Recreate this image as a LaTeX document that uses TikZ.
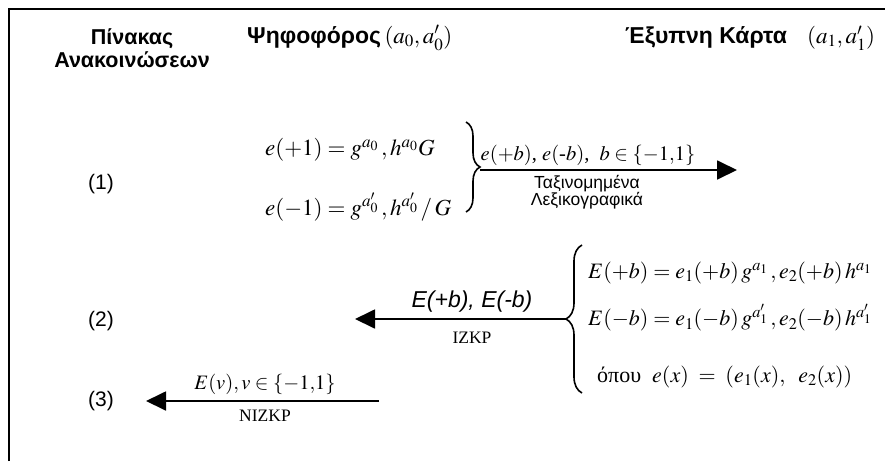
\documentclass[tikz,border=0pt]{standalone}
\usepackage{mathptmx}
\usepackage{fontspec}
\setmainfont{Liberation Serif}
\setsansfont{Liberation Sans}
\usetikzlibrary{arrows.meta,decorations.pathreplacing}
\tikzset{
  hdr/.style={font=\sffamily\bfseries\fontsize{21.5}{23.5}\selectfont, align=center, inner sep=0pt},
  colhdr/.style={font=\sffamily\bfseries\fontsize{23}{26}\selectfont, inner sep=0pt, anchor=west},
  hdrmath/.style={font=\fontsize{23}{26}\selectfont, inner sep=0pt, anchor=west},
  steplbl/.style={font=\sffamily\fontsize{21}{22}\selectfont, inner sep=0pt},
  eqn/.style={font=\fontsize{22}{26}\selectfont, inner sep=0pt, anchor=west},
  lbl/.style={font=\fontsize{20.5}{24}\selectfont, inner sep=0pt},
  small/.style={font=\fontsize{17.5}{19}\selectfont, inner sep=0pt},
  smallsans/.style={font=\sffamily\fontsize{17.5}{17.5}\selectfont, align=center, inner sep=0pt},
  flow/.style={line width=1.8pt, -{Triangle[length=20pt,width=19pt]}},
  curly/.style={line width=1.6pt, decorate, decoration={brace, amplitude=14pt}},
  frame/.style={line width=1.6pt}
}
\begin{document}
\begin{tikzpicture}[x=1pt,y=-1pt]
\useasboundingbox (0,0) rectangle (885,461);
\draw[frame] (9,461) -- (9,9) -- (885,9);

% headers
\node[hdr] (board) at (132,48) {Πίνακας\\Ανακοινώσεων};
\node[colhdr] (voter) at (247,37) {Ψηφοφόρος};
\node[hdrmath] (voterkey) at ([xshift=3pt,yshift=-1pt]voter.east) {$(a_0,a_0')$};
\node[colhdr] (card) at (625,37) {Έξυπνη Κάρτα};
\node[hdrmath] (cardkey) at (807,38) {$(a_1,a_1')$};

% step labels
\node[steplbl] (s1) at (101,184) {(1)};
\node[steplbl] (s2) at (101,321) {(2)};
\node[steplbl] (s3) at (101,401) {(3)};

% step 1
\node[eqn, font=\fontsize{23}{27}\selectfont] (e1) at (265,150) {$e(+1) = g^{a_0}\,,h^{a_0}G$};
\node[eqn, font=\fontsize{23}{27}\selectfont] (e2) at (265,207) {$e(-1) = g^{a_0'}\,,h^{a_0'}\,/\,G$};
\coordinate (b1top) at (466,122);
\coordinate (b1bot) at (466,212);
\draw[curly] (b1top) -- (b1bot);
\coordinate (b1tip) at (480,170);
\coordinate (a1end) at (737,170);
\draw[flow] (b1tip) -- (a1end);
\node[lbl] (l1) at (588,155) {$e(+b)$, $e(\mbox{-}b)$, \ $b \in \{{-}1{,}1\}$};
\node[smallsans] (l1b) at (587,192) {Ταξινομημένα\\Λεξικογραφικά};

% step 2
\node[eqn] (E1) at (588,273) {$E(+b) = e_1(+b)\,g^{a_1}\,, e_2(+b)\,h^{a_1}$};
\node[eqn] (E2) at (588,318) {$E(-b) = e_1(-b)\,g^{a_1'}\,, e_2(-b)\,h^{a_1'}$};
\node[eqn] (E3) at (597,377) {όπου\ \ $e(x) \;=\; (e_1(x),\;\ e_2(x))$};
\coordinate (b2top) at (582,245);
\coordinate (b2bot) at (582,393);
\draw[curly, decoration={brace, amplitude=16pt}] (b2bot) -- (b2top);
\coordinate (b2tip) at (566,319);
\coordinate (a2end) at (355,319);
\draw[flow] (b2tip) -- (a2end);
\node[lbl, font=\sffamily\itshape\fontsize{23}{26}\selectfont] (l2) at (472,302) {E(+b), E(-b)};
\node[small] (l2b) at (472,338) {IZKP};

% step 3
\coordinate (a3start) at (379,401);
\coordinate (a3end) at (146,401);
\draw[flow] (a3start) -- (a3end);
\node[lbl] (l3) at (265,384) {$E(v), v \in \{{-}1{,}1\}$};
\node[small] (l3b) at (265,416) {NIZKP};
\end{tikzpicture}
\end{document}
